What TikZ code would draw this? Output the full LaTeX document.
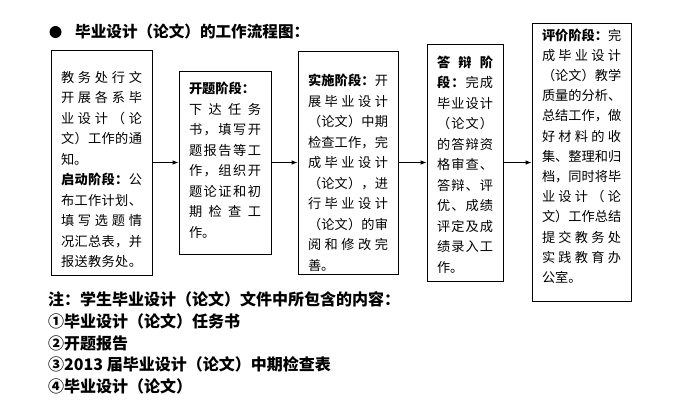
\documentclass[tikz,border=0pt]{standalone}
\usepackage{fontspec}
\setmainfont{Noto Sans CJK SC}
\usetikzlibrary{arrows.meta}
\def\eatone#1{}
\def\chars#1{\charsaux#1\relax}
\def\charsaux#1#2{#1\ifx\relax#2\expandafter\eatone\else\hfill\expandafter\charsaux\fi{#2}}
\newcommand{\spread}[1]{\makebox[\linewidth][s]{\chars{#1}}}
\newcommand{\spreadb}[2]{\makebox[\linewidth][s]{\textbf{\chars{#1}}\hfill\chars{#2}}}
\newcommand{\stagetext}[4]{\parbox[c][#1][t]{#2}{\vspace*{#3}#4}}

\begin{document}
\begin{tikzpicture}[x=1pt,y=-1pt,
    stage/.style={draw=black, line width=0.8pt, inner xsep=10pt, inner ysep=0pt, font=\fontsize{13.2}{20.5}\selectfont},
    flow/.style={-{Latex[length=6pt,width=4.5pt]}, line width=0.8pt},
    note/.style={anchor=base west, inner sep=0pt, font=\bfseries\fontsize{16}{18}\selectfont}]
   \useasboundingbox (0,0) rectangle (692,413);

   % Title
   \node[circle, fill=black, inner sep=0pt, minimum size=12pt] (bullet) at (55.5,32) {};
   \node[anchor=base west, inner sep=0pt, font=\bfseries\fontsize{15.6}{18}\selectfont] (title) at (75,37.5) {毕业设计（论文）的工作流程图：};

   % Stages
   \node[stage] (s1) at (101.5,162.5) {\stagetext{225pt}{81pt}{21pt}{
     \spread{教务处行文}\\
     \spread{开展各系毕}\\
     \spread{业设计（论}\\
     \spread{文）工作的通}\\
     知。\\
     \spreadb{启动阶段：}{公}\\
     \spread{布工作计划、}\\
     \spread{填写选题情}\\
     \spread{况汇总表，并}\\
     \spread{报送教务处。}}};

   \node[stage] (s2) at (225,162.5) {\stagetext{183pt}{72pt}{11pt}{
     \textbf{开题阶段：}\\
     \spread{下达任务}\\
     \spread{书，填写开}\\
     \spread{题报告等工}\\
     \spread{作，组织开}\\
     \spread{题论证和初}\\
     \spread{期检查工}\\
     作。}};

   \node[stage] (s3) at (348,162.5) {\stagetext{223pt}{80pt}{23pt}{
     \spreadb{实施阶段：}{开}\\
     \spread{展毕业设计}\\
     \spread{（论文）中期}\\
     \spread{检查工作，完}\\
     \spread{成毕业设计}\\
     \spread{（论文），进}\\
     \spread{行毕业设计}\\
     \spread{（论文）的审}\\
     \spread{阅和修改完}\\
     善。}};

   \node[stage] (s4) at (465,162.5) {\stagetext{237pt}{56pt}{12pt}{
     \makebox[\linewidth][s]{\textbf{\chars{答辩阶}}}\\
     \spreadb{段：}{完成}\\
     \spread{毕业设计}\\
     \spread{（论文）}\\
     \spread{的答辩资}\\
     \spread{格审查、}\\
     \spread{答辩、评}\\
     \spread{优、成绩}\\
     \spread{评定及成}\\
     \spread{绩录入工}\\
     作。}};

   \node[stage, font=\fontsize{13.2}{20.2}\selectfont] (s5) at (581.5,162.5) {\stagetext{278pt}{79pt}{5pt}{
     \spreadb{评价阶段：}{完}\\
     \spread{成毕业设计}\\
     \spread{（论文）教学}\\
     \spread{质量的分析、}\\
     \spread{总结工作，做}\\
     \spread{好材料的收}\\
     \spread{集、整理和归}\\
     \spread{档，同时将毕}\\
     \spread{业设计（论}\\
     \spread{文）工作总结}\\
     \spread{提交教务处}\\
     \spread{实践教育办}\\
     公室。}};

   % Arrows
   \foreach \a/\b in {s1/s2, s2/s3, s3/s4, s4/s5}
     \draw[flow] (\a) -- (\b);

   % Notes
   \foreach \t [count=\i] in {注：学生毕业设计（论文）文件中所包含的内容：,
       ①毕业设计（论文）任务书, ②开题报告,
       ③2013 届毕业设计（论文）中期检查表, ④毕业设计（论文）}
     \node[note] (note\i) at (48,283.75+21.75*\i) {\t};

\end{tikzpicture}
\end{document}
